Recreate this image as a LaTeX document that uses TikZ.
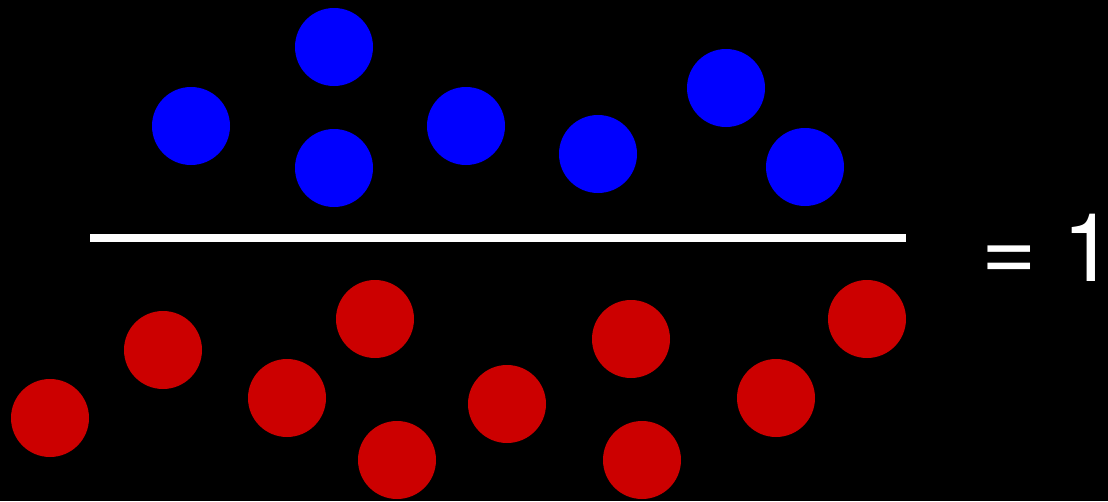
\documentclass[tikz,border=0pt]{standalone}
\usepackage{fontspec}
\newfontfamily\eqfont{TeX Gyre Heros}
\definecolor{dotblue}{HTML}{0000FF}
\definecolor{dotred}{HTML}{CC0000}
\begin{document}
\begin{tikzpicture}[x=1pt,y=-1pt,
  dot/.style={circle,inner sep=0pt,minimum size=78pt,draw=none},
  bdot/.style={dot,fill=dotblue},
  rdot/.style={dot,fill=dotred},
  eqtext/.style={anchor=base west,inner sep=0pt,text=white,font=\eqfont\fontsize{95}{95}\selectfont}]
\fill[black] (0,0) rectangle (1108,501);
\useasboundingbox (0,0) rectangle (1108,501);
% blue
\node[bdot] (b1) at (191,126) {};
\node[bdot] (b2) at (334,47) {};
\node[bdot] (b3) at (334,168) {};
\node[bdot] (b4) at (466,126) {};
\node[bdot] (b5) at (598,154) {};
\node[bdot] (b6) at (726,88) {};
\node[bdot] (b7) at (805,167) {};
% fraction bar
\coordinate (l1) at (90,238);
\coordinate (l2) at (906,238);
\draw[white,line width=8pt] (l1) -- (l2);
% red
\node[rdot] (r1) at (50,418) {};
\node[rdot] (r2) at (163,350) {};
\node[rdot] (r3) at (375,319) {};
\node[rdot] (r4) at (287,398) {};
\node[rdot] (r5) at (397,460) {};
\node[rdot] (r6) at (507,404) {};
\node[rdot] (r7) at (631,339) {};
\node[rdot] (r8) at (642,460) {};
\node[rdot] (r9) at (776,398) {};
\node[rdot] (r10) at (867,319) {};
% text
\node[eqtext] (eq) at (981,281) {=};
\node[eqtext] (one) at (1062,281) {1};
\end{tikzpicture}
\end{document}
